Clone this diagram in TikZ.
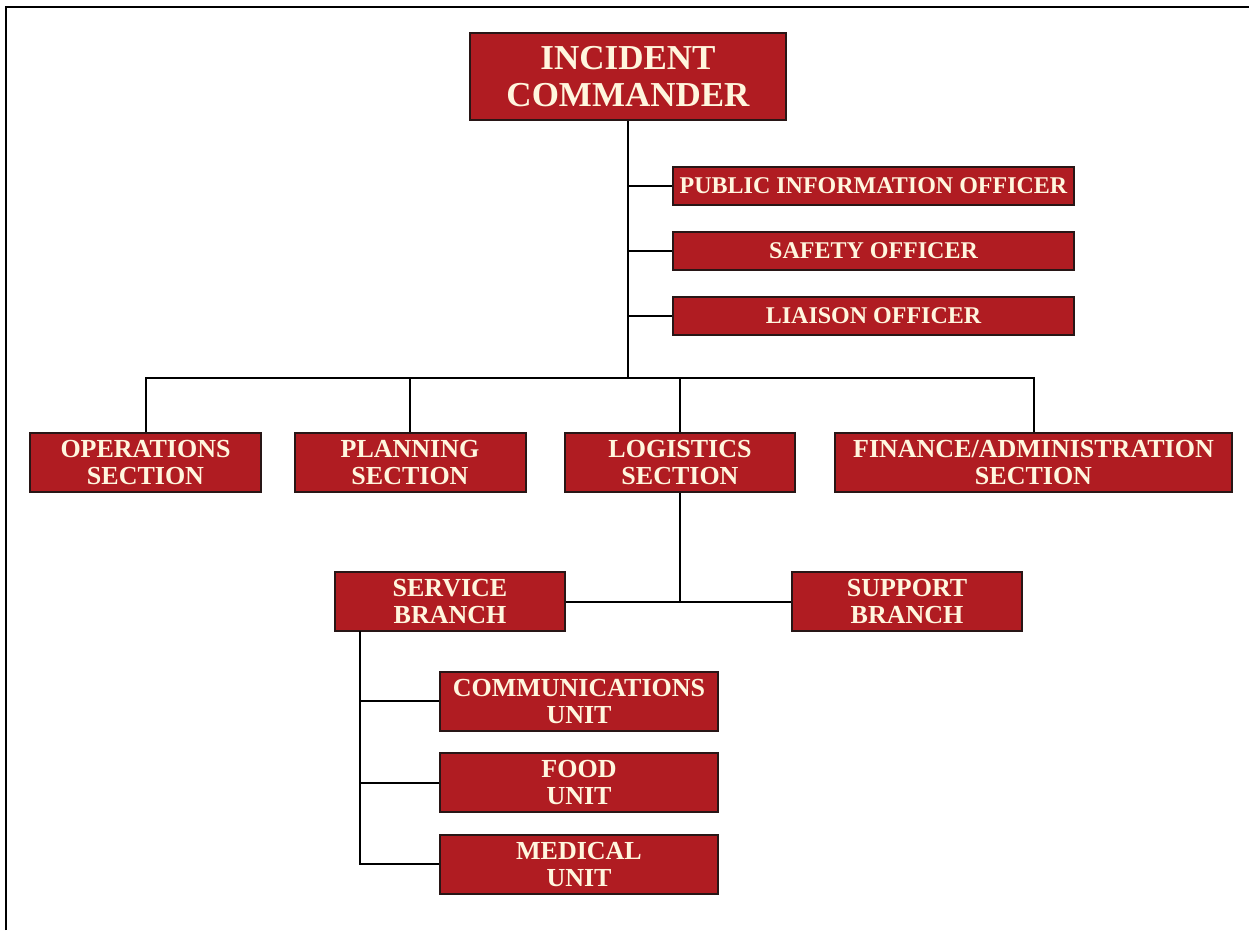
\documentclass[tikz,border=0pt]{standalone}
\usepackage{fontspec}
\setmainfont{Liberation Serif}
\usetikzlibrary{positioning}

\definecolor{icsred}{RGB}{176,28,34}
\definecolor{icstext}{RGB}{255,246,222}
\definecolor{icsedge}{RGB}{40,22,22}

\tikzset{
  box/.style={draw=icsedge, line width=2pt, fill=icsred, text=icstext,
    align=center, inner sep=0pt, font=\bfseries\fontsize{26}{27}\selectfont,
    minimum height=59pt},
  officer/.style={box, minimum width=401pt, minimum height=38pt,
    font=\bfseries\fontsize{24}{27}\selectfont},
  conn/.style={line width=2pt, draw=black}
}

\begin{document}
\begin{tikzpicture}[x=1pt,y=-1pt]
\useasboundingbox (0,0) rectangle (1249,930);
% Frame
\draw[line width=2.5pt] (6,930) -- (6,7) -- (1249,7);
% Command staff
\node[box, minimum width=316pt, minimum height=87pt,
      font=\bfseries\fontsize{35}{37}\selectfont] (ic) at (628,76.5) {INCIDENT\\COMMANDER};
\node[officer] (pio) at (873.5,186) {PUBLIC INFORMATION OFFICER};
\node[officer] (safety) at (873.5,251) {SAFETY OFFICER};
\node[officer] (liaison) at (873.5,316) {LIAISON OFFICER};
% General staff
\coordinate (bar) at (628,378);
\node[box, minimum width=231pt] (ops) at (145.5,462.5) {OPERATIONS\\SECTION};
\node[box, minimum width=231pt] (plan) at (410,462.5) {PLANNING\\SECTION};
\node[box, minimum width=230pt] (logi) at (680,462.5) {LOGISTICS\\SECTION};
\node[box, minimum width=397pt] (fin) at (1033.5,462.5) {FINANCE/ADMINISTRATION\\SECTION};
% Logistics branches and units
\node[box, minimum width=230pt] (serv) at (450,601.5) {SERVICE\\BRANCH};
\node[box, minimum width=230pt] (supp) at (907,601.5) {SUPPORT\\BRANCH};
\coordinate (sv) at (360,631);
\node[box, minimum width=278pt] (comm) at (579,701) {COMMUNICATIONS\\UNIT};
\node[box, minimum width=278pt] (food) at (579,782.5) {FOOD\\UNIT};
\node[box, minimum width=278pt] (med) at (579,864) {MEDICAL\\UNIT};
% Connectors
\draw[conn] (ic.south) -- (bar);
\draw[conn] (ic.south) |- (pio.west);
\draw[conn] (ic.south) |- (safety.west);
\draw[conn] (ic.south) |- (liaison.west);
\draw[conn] (ops.north) |- (bar) -| (fin.north);
\draw[conn] (plan.north) -- (plan.north |- bar);
\draw[conn] (logi.north) -- (logi.north |- bar);
\draw[conn] (logi.south) -- (logi.south |- serv.east);
\draw[conn] (serv.east) -- (supp.west);
\draw[conn] (sv) |- (comm.west);
\draw[conn] (sv) |- (food.west);
\draw[conn] (sv) |- (med.west);
\end{tikzpicture}
\end{document}
